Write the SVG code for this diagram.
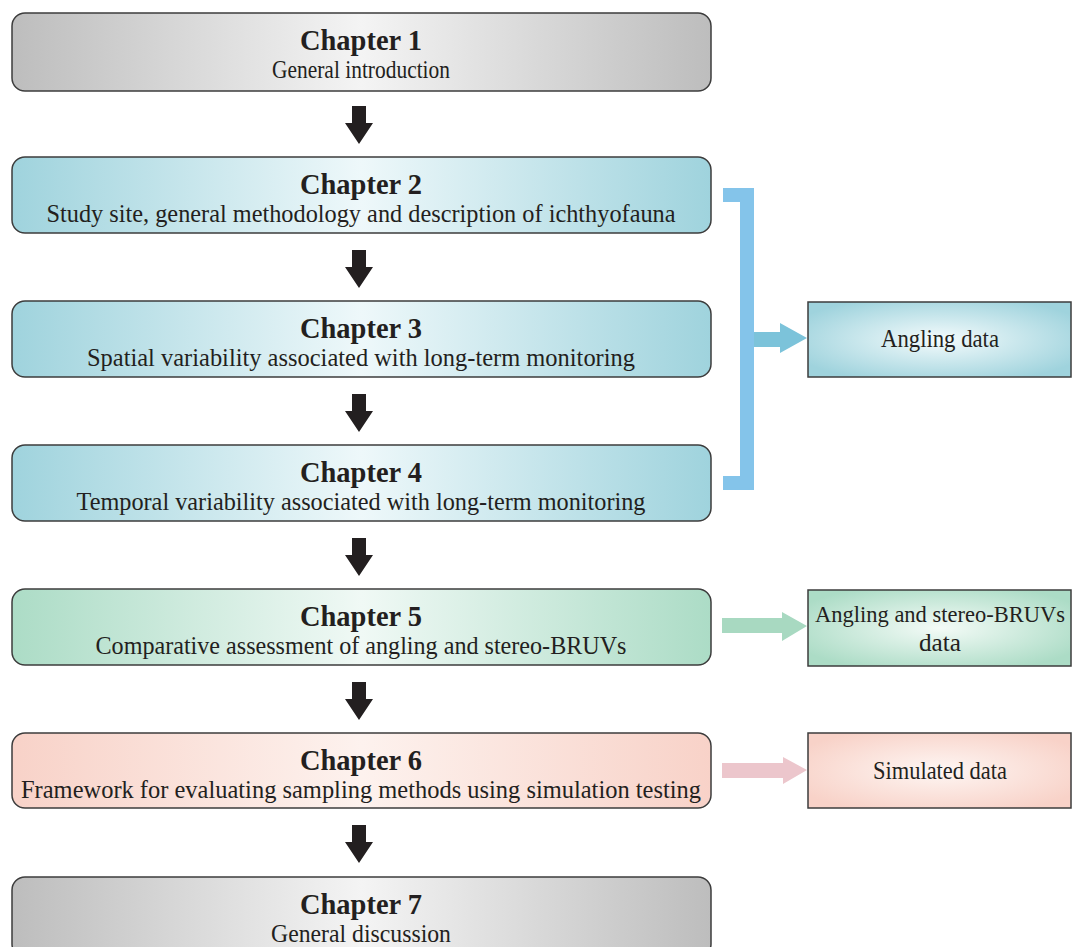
<svg xmlns="http://www.w3.org/2000/svg" width="1073" height="947" viewBox="0 0 1073 947">
<defs>
<linearGradient id="gGray" x1="0" y1="0" x2="1" y2="0">
<stop offset="0" stop-color="#bdbdbd"/><stop offset="0.5" stop-color="#f4f4f4"/><stop offset="1" stop-color="#bdbdbd"/>
</linearGradient>
<linearGradient id="gTeal" x1="0" y1="0" x2="1" y2="0">
<stop offset="0" stop-color="#9fd3dd"/><stop offset="0.5" stop-color="#eef8fa"/><stop offset="1" stop-color="#9fd3dd"/>
</linearGradient>
<linearGradient id="gGreen" x1="0" y1="0" x2="1" y2="0">
<stop offset="0" stop-color="#acdcc6"/><stop offset="0.5" stop-color="#f0f9f5"/><stop offset="1" stop-color="#acdcc6"/>
</linearGradient>
<linearGradient id="gPink" x1="0" y1="0" x2="1" y2="0">
<stop offset="0" stop-color="#f8d2c8"/><stop offset="0.5" stop-color="#fdf2ee"/><stop offset="1" stop-color="#f8d2c8"/>
</linearGradient>
<radialGradient id="rTeal" cx="0.5" cy="0.5" r="0.6">
<stop offset="0" stop-color="#f4fbfc"/><stop offset="1" stop-color="#9fd3dd"/>
</radialGradient>
<radialGradient id="rGreen" cx="0.5" cy="0.5" r="0.6">
<stop offset="0" stop-color="#f4fbf7"/><stop offset="1" stop-color="#acdcc6"/>
</radialGradient>
<radialGradient id="rPink" cx="0.5" cy="0.5" r="0.6">
<stop offset="0" stop-color="#fef6f3"/><stop offset="1" stop-color="#f8d2c8"/>
</radialGradient>
<path id="downArrow" d="M-7,0 H7 V17 H14 L0,38 L-14,17 H-7 Z" fill="#231f20"/>
</defs>
<style>
.box{stroke:#3d3d3d;stroke-width:1.5}
.t{font-family:"Liberation Serif","Times New Roman",serif;fill:#231f20;text-anchor:middle}
.h{font-weight:bold;font-size:30px}
.s{font-size:26px}
.r{font-size:25px}
.rs{font-size:22.5px}
</style>
<rect width="1073" height="947" fill="#ffffff"/>
<g id="connectors">
<use href="#downArrow" x="359" y="106"/>
<use href="#downArrow" x="359" y="250"/>
<use href="#downArrow" x="359" y="394"/>
<use href="#downArrow" x="359" y="538"/>
<use href="#downArrow" x="359" y="682"/>
<use href="#downArrow" x="359" y="825"/>
<path d="M723,188 H754 V490 H723 V476 H740 V202 H723 Z" fill="#84c4ea"/>
<path d="M754,332 H780 V323 L807,338 L780,353 V347 H754 Z" fill="#7cc3da"/>
<path d="M722,618 H782 V612 L807,626 L782,641 V633 H722 Z" fill="#a8d9c1"/>
<path d="M722,763 H783 V757 L807,770 L783,784 V778 H722 Z" fill="#ecc6cc"/>
</g>
<g id="ch1">
<rect class="box" x="12" y="13" width="699" height="78" rx="13" fill="url(#gGray)"/>
<text class="t h" x="361" y="50" textLength="122" lengthAdjust="spacingAndGlyphs">Chapter 1</text>
<text class="t s" x="361" y="78" textLength="178" lengthAdjust="spacingAndGlyphs">General introduction</text>
</g>
<g id="ch2">
<rect class="box" x="12" y="157" width="699" height="76" rx="13" fill="url(#gTeal)"/>
<text class="t h" x="361" y="194" textLength="122" lengthAdjust="spacingAndGlyphs">Chapter 2</text>
<text class="t s" x="361" y="222" textLength="629" lengthAdjust="spacingAndGlyphs">Study site, general methodology and description of ichthyofauna</text>
</g>
<g id="ch3">
<rect class="box" x="12" y="301" width="699" height="76" rx="13" fill="url(#gTeal)"/>
<text class="t h" x="361" y="338" textLength="122" lengthAdjust="spacingAndGlyphs">Chapter 3</text>
<text class="t s" x="361" y="366" textLength="548" lengthAdjust="spacingAndGlyphs">Spatial variability associated with long-term monitoring</text>
</g>
<g id="ch4">
<rect class="box" x="12" y="445" width="699" height="76" rx="13" fill="url(#gTeal)"/>
<text class="t h" x="361" y="482" textLength="122" lengthAdjust="spacingAndGlyphs">Chapter 4</text>
<text class="t s" x="361" y="510" textLength="569" lengthAdjust="spacingAndGlyphs">Temporal variability associated with long-term monitoring</text>
</g>
<g id="ch5">
<rect class="box" x="12" y="589" width="699" height="76" rx="13" fill="url(#gGreen)"/>
<text class="t h" x="361" y="626" textLength="122" lengthAdjust="spacingAndGlyphs">Chapter 5</text>
<text class="t s" x="361" y="654" textLength="531" lengthAdjust="spacingAndGlyphs">Comparative assessment of angling and stereo-BRUVs</text>
</g>
<g id="ch6">
<rect class="box" x="12" y="733" width="699" height="75" rx="13" fill="url(#gPink)"/>
<text class="t h" x="361" y="770" textLength="122" lengthAdjust="spacingAndGlyphs">Chapter 6</text>
<text class="t s" x="361" y="798" textLength="680" lengthAdjust="spacingAndGlyphs">Framework for evaluating sampling methods using simulation testing</text>
</g>
<g id="ch7">
<rect class="box" x="12" y="877" width="699" height="80" rx="13" fill="url(#gGray)"/>
<text class="t h" x="361" y="914" textLength="122" lengthAdjust="spacingAndGlyphs">Chapter 7</text>
<text class="t s" x="361" y="942" textLength="180" lengthAdjust="spacingAndGlyphs">General discussion</text>
</g>
<g id="angling">
<rect class="box" x="808" y="302" width="263" height="75" fill="url(#rTeal)"/>
<text class="t r" x="940" y="347" textLength="118" lengthAdjust="spacingAndGlyphs">Angling data</text>
</g>
<g id="angling-bruvs">
<rect class="box" x="808" y="590" width="263" height="76" fill="url(#rGreen)"/>
<text class="t rs" x="940" y="622">Angling and stereo-BRUVs</text>
<text class="t r" x="940" y="651" textLength="42" lengthAdjust="spacingAndGlyphs">data</text>
</g>
<g id="simulated">
<rect class="box" x="808" y="733" width="263" height="75" fill="url(#rPink)"/>
<text class="t r" x="940" y="779" textLength="134" lengthAdjust="spacingAndGlyphs">Simulated data</text>
</g>
</svg>
